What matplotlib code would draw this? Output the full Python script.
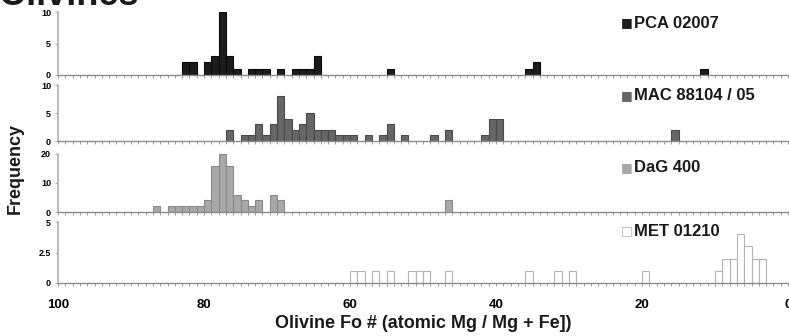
import matplotlib
matplotlib.use("Agg")
import matplotlib.pyplot as plt
from matplotlib.ticker import MultipleLocator, FixedLocator

plt.rcParams['font.family'] = ['Liberation Sans', 'DejaVu Sans']

# histogram data: lower edge of each 1-unit Fo bin and its count
pca_fo = [82, 81, 79, 78, 77, 76, 75, 73, 72, 71, 69, 67, 66, 65, 64, 54, 35, 34, 11]
pca_n = [2, 2, 2, 3, 10, 3, 1, 1, 1, 1, 1, 1, 1, 1, 3, 1, 1, 2, 1]

mac_fo = [76, 74, 73, 72, 71, 70, 69, 68, 67, 66, 65, 64, 63, 62, 61, 60, 59,
          57, 55, 54, 52, 48, 46, 41, 40, 39, 15]
mac_n = [2, 1, 1, 3, 1, 3, 8, 4, 2, 3, 5, 2, 2, 2, 1, 1, 1,
         1, 1, 3, 1, 1, 2, 1, 4, 4, 2]

dag_fo = [86, 84, 83, 82, 81, 80, 79, 78, 77, 76, 75, 74, 73, 72, 70, 69, 46]
dag_n = [2, 2, 2, 2, 2, 2, 4, 16, 20, 16, 6, 4, 2, 4, 6, 4, 4]

met_fo = [59, 58, 56, 54, 51, 50, 49, 46, 35, 31, 29, 19, 9, 8, 7, 6, 5, 4, 3]
met_n = [1, 1, 1, 1, 1, 1, 1, 1, 1, 1, 1, 1, 1, 2, 2, 4, 3, 2, 2]

samples = ["PCA 02007", "MAC 88104 / 05", "DaG 400", "MET 01210"]
fo_list = [pca_fo, mac_fo, dag_fo, met_fo]
n_list = [pca_n, mac_n, dag_n, met_n]
ymax = [10, 10, 20, 5]
yticks = [[0, 5, 10], [0, 5, 10], [0, 10, 20], [0, 2.5, 5]]
yticklabels = [["0", "5", "10"], ["0", "5", "10"], ["0", "10", "20"], ["0", "2.5", "5"]]
xticks = [100, 80, 60, 40, 20, 0]
xticklabels = ["100", "80", "60", "40", "20", "0"]

faces = ["#1c1c1c", "#666666", "#a8a8a8", "white"]
edges = ["#0a0a0a", "#4a4a4a", "#8a8a8a", "#b4b4b4"]

W, H = 789, 336
fig = plt.figure(figsize=(W / 100, H / 100), dpi=100)

# axes extents in pixels (top, bottom), legend label rows
panels = [(12, 75), (85, 141), (154, 212), (222, 283)]
label_y = [23, 96, 168, 231]
left, right = 58, 788

for i, (top, bot) in enumerate(panels):
    ax = fig.add_axes([left / W, 1 - bot / H, (right - left) / W, (bot - top) / H])
    ax.bar(fo_list[i], n_list[i], width=1, align='edge', color=faces[i],
           edgecolor=edges[i], linewidth=0.8)
    ax.set_xlim(100, 0)
    ax.set_ylim(0, ymax[i])
    for s in ['top', 'right']:
        ax.spines[s].set_visible(False)
    ax.spines['left'].set_color('#b0b0b0')
    ax.spines['bottom'].set_color('#8c8c8c')
    ax.spines['left'].set_linewidth(1.2)
    ax.spines['bottom'].set_linewidth(1.0)
    ax.yaxis.set_major_locator(FixedLocator(yticks[i]))
    ax.set_yticklabels(yticklabels[i], fontsize=6.5, fontweight='bold')
    ax.tick_params(axis='y', length=2, width=0.8, color='#b0b0b0', pad=3)
    ax.xaxis.set_major_locator(FixedLocator(xticks))
    ax.xaxis.set_minor_locator(MultipleLocator(1))
    ax.tick_params(axis='x', which='both', direction='out', length=2.5,
                   width=0.6, color='#8c8c8c')
    if i < 3:
        ax.tick_params(axis='x', labelbottom=False)
    else:
        ax.set_xticklabels(xticklabels, fontsize=9.5, fontweight='bold')
        ax.tick_params(axis='x', pad=9)
    ax.patch.set_alpha(0)
    # legend-like label
    ly = 1 - label_y[i] / H
    fig.text(621 / W, ly, "\u25A0", fontsize=9, color=faces[i], va='center',
             ha='left', family='DejaVu Sans')
    if i == 3:
        fig.text(621 / W, ly, "\u25A1", fontsize=9, color=edges[i], va='center',
                 ha='left', family='DejaVu Sans')
    fig.text(634 / W, ly, samples[i], fontsize=12, fontweight='bold',
             va='center', ha='left', color='#1a1a1a')

fig.text(423 / W, 1 - 324 / H, "Olivine Fo # (atomic Mg / Mg + Fe])",
         fontsize=13, fontweight='bold', ha='center', va='center', color='#1a1a1a')
fig.text(15 / W, 1 - 168 / H, "Frequency", fontsize=13, fontweight='bold',
         rotation=90, ha='center', va='center', color='#1a1a1a')
fig.text(-2 / W, 1 - 5 / H, "Olivines", fontsize=26, fontweight='bold',
         ha='left', va='baseline', color='#1a1a1a')

fig.savefig("out.png", dpi=100)
